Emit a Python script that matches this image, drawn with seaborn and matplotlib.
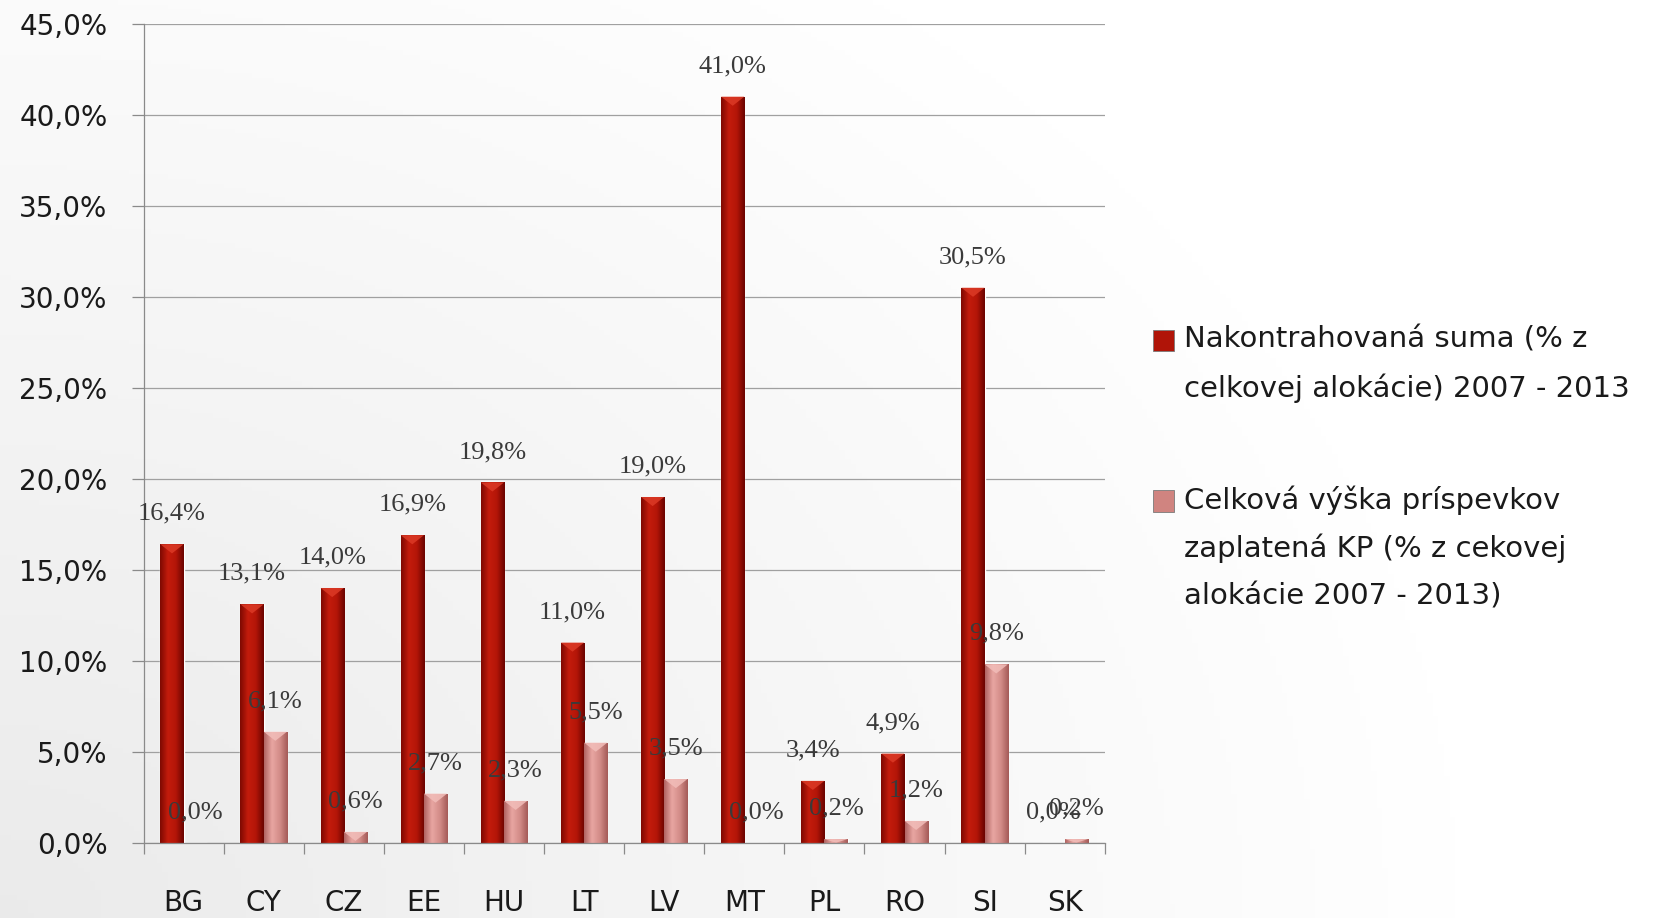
import numpy as np
import pandas as pd
import seaborn as sns
import matplotlib.pyplot as plt
from matplotlib.patches import Rectangle, Polygon
from matplotlib.colors import LinearSegmentedColormap

# data
countries = ['BG', 'CY', 'CZ', 'EE', 'HU', 'LT', 'LV', 'MT', 'PL', 'RO', 'SI', 'SK']
contracted = [16.4, 13.1, 14.0, 16.9, 19.8, 11.0, 19.0, 41.0, 3.4, 4.9, 30.5, 0.0]
paid = [0.0, 6.1, 0.6, 2.7, 2.3, 5.5, 3.5, 0.0, 0.2, 1.2, 9.8, 0.2]
series_names = ['Nakontrahovaná suma (% z\ncelkovej alokácie) 2007 - 2013',
                'Celková výška príspevkov\nzaplatená KP (% z cekovej\nalokácie 2007 - 2013)']
y_ticks = [0, 5, 10, 15, 20, 25, 30, 35, 40, 45]

df = pd.DataFrame({
    'country': countries * 2,
    'value': contracted + paid,
    'series': [series_names[0]] * len(countries) + [series_names[1]] * len(countries),
})

colors = ['#b8160a', '#d98a86']
grads = [
    LinearSegmentedColormap.from_list('dark', ['#7e0902', '#c41c0c', '#b31508', '#6a0400']),
    LinearSegmentedColormap.from_list('pink', ['#b06462', '#e8a6a2', '#d38c88', '#a45a57']),
]
bevel = ['#dc3a26', '#f2bdb9']

sns.set_style('white')
plt.rcParams['font.family'] = ['DejaVu Sans']

fig = plt.figure(figsize=(16.79, 9.18), dpi=100)

# soft grey background fading to white
bg = fig.add_axes([0, 0, 1, 1], zorder=-5)
gx, gy = np.meshgrid(np.linspace(0, 1, 300), np.linspace(0, 1, 200))
shade = 1 - 0.08 * np.clip(1 - np.hypot(gx * 1.15, (1 - gy) * 0.8), 0, 1)
bg.imshow(np.dstack([shade] * 3), aspect='auto', extent=[0, 1, 0, 1], origin='upper')
bg.axis('off')

ax = fig.add_axes([0.0855, 0.082, 0.5725, 0.892])
ax.set_facecolor('none')

sns.barplot(data=df, x='country', y='value', hue='series', hue_order=series_names,
            palette=colors, saturation=1, width=0.58, gap=0, legend=False, ax=ax)

# shaded "3d" look on the bars
bev_h = 0.5
for cont, cmap, bc in zip(ax.containers, grads, bevel):
    for p in cont:
        h = p.get_height()
        if h <= 0:
            continue
        x0, w = p.get_x(), p.get_width()
        g = cmap(np.linspace(0, 1, 64))[None, :, :3]
        im = ax.imshow(g, extent=[x0, x0 + w, 0, h], aspect='auto',
                       interpolation='bicubic', zorder=p.get_zorder() + 0.1)
        im.set_clip_path(p)
        th = min(bev_h, h)
        ax.add_patch(Polygon([[x0, h], [x0 + w, h], [x0 + w / 2, h - th]], closed=True,
                             facecolor=bc, edgecolor='none', alpha=0.85,
                             zorder=p.get_zorder() + 0.2))

def fmt(v):
    return f'{v:.1f}'.replace('.', ',') + '%'

for cont, vals in zip(ax.containers, [contracted, paid]):
    ax.bar_label(cont, labels=[fmt(v) for v in vals], padding=14, fontsize=19,
                 family='Liberation Serif', color='#3a3a3a', zorder=5)

ax.set_xlim(-0.5, len(countries) - 0.5)
ax.set_ylim(0, 45)
ax.set_yticks(y_ticks)
ax.set_yticklabels([f'{t},0%' for t in y_ticks])
ax.set_xlabel('')
ax.set_ylabel('')

ax.yaxis.grid(True, color='#a0a0a0', linewidth=0.9)
ax.set_axisbelow(True)
for s in ['top', 'right']:
    ax.spines[s].set_visible(False)
for s in ['left', 'bottom']:
    ax.spines[s].set_color('#8a8a8a')
    ax.spines[s].set_linewidth(0.9)

ax.set_xticks(np.arange(-0.5, len(countries)), minor=True)
ax.tick_params(axis='x', which='major', length=0, pad=33, labelsize=20, labelcolor='#1a1a1a')
ax.tick_params(axis='x', which='minor', length=8, color='#8a8a8a', width=0.9, direction='out')
ax.tick_params(axis='y', length=9, color='#8a8a8a', width=0.9, direction='out', pad=17,
               labelsize=20, labelcolor='#1a1a1a')
ax.yaxis.set_ticks_position('left')
ax.xaxis.set_ticks_position('bottom')

# legend drawn by hand so the markers sit on the first line of each entry
leg_y = [0.630, 0.4553]
line_h = 48.2 / 918
for name, col, y0 in zip(series_names, ['#b01408', '#d08480'], leg_y):
    fig.patches.append(Rectangle((0.6867, y0 - 0.0125), 0.0125, 0.0229,
                                 transform=fig.transFigure, facecolor=col,
                                 edgecolor='#7a7a7a', linewidth=0.6))
    for i, line in enumerate(name.split('\n')):
        fig.text(0.7052, y0 - i * line_h, line, fontsize=21, va='center', ha='left',
                 color='#1a1a1a')

fig.savefig('out.png', dpi=100)
